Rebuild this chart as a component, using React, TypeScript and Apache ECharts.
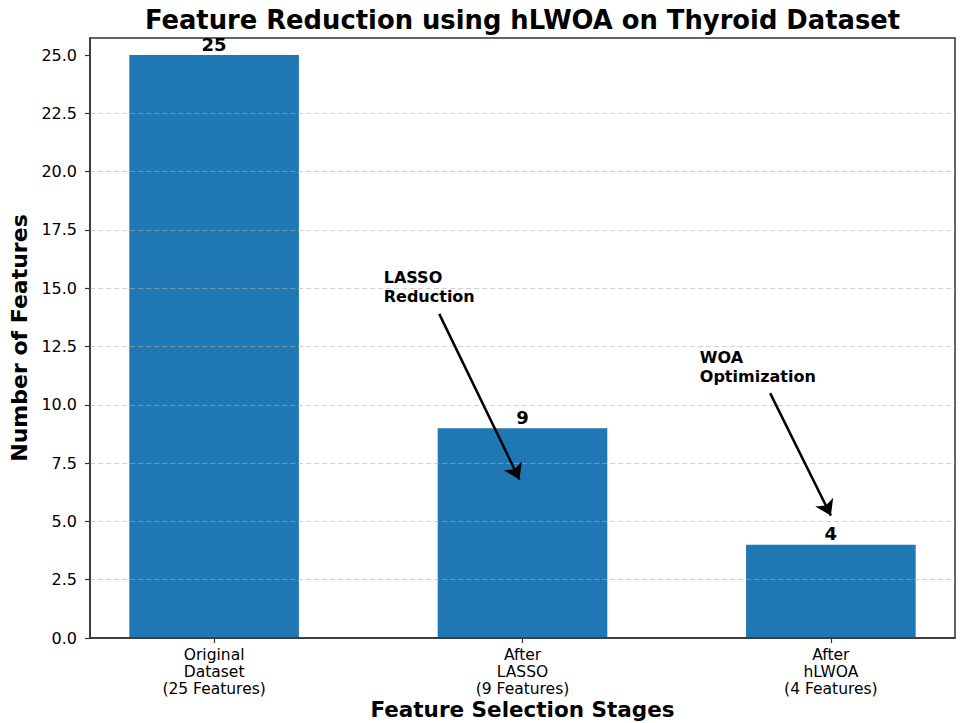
import React, { useRef, useEffect } from 'react';
import * as echarts from 'echarts';

const FONT = 'DejaVu Sans, sans-serif';

// ─── Data ────────────────────────────────────────────────────────────────────
const CATEGORIES = [
  'Original\nDataset\n(25 Features)',
  'After\nLASSO\n(9 Features)',
  'After\nhLWOA\n(4 Features)',
];
const FEATURE_COUNTS = [25, 9, 4];
const CATEGORY_INDEX = [0, 1, 2];
const Y_TICKS = [0, 2.5, 5, 7.5, 10, 12.5, 15, 17.5, 20, 22.5, 25];

// annotations, in data coordinates (x = category index)
const ANNOTATION_TEXTS = ['LASSO\nReduction', 'WOA\nOptimization'];
const ANNOTATION_TEXT_AT = [[0.55, 15.85], [1.575, 12.45]];
const ARROW_FROM = [[0.73, 13.9], [1.803, 10.5]];
const ARROW_TO = [[0.99, 6.8], [2.0, 5.25]];

// ─── Layout ──────────────────────────────────────────────────────────────────
const W = 966, H = 723;
const GRID_LEFT = 90, GRID_RIGHT = 11, GRID_TOP = 38, GRID_BOTTOM = 85;
const X_MIN = -0.4025, X_MAX = 2.4025;
const Y_MAX = 25.73;
const BAR_UNITS = 0.55;
const BAR_COLOR = '#1f77b4';
const SPINE = '#333333';

function getOption(): echarts.EChartsCoreOption {
  const gridW = W - GRID_LEFT - GRID_RIGHT;
  const barPx = (BAR_UNITS / (X_MAX - X_MIN)) * gridW;
  return {
    animation: false,
    backgroundColor: '#ffffff',
    textStyle: { fontFamily: FONT },
    graphic: [
      {
        type: 'text',
        x: GRID_LEFT + gridW / 2,
        y: 20,
        style: {
          text: 'Feature Reduction using hLWOA on Thyroid Dataset',
          font: `bold 25.8px ${FONT}`,
          fill: '#000',
          textAlign: 'center',
          textVerticalAlign: 'middle',
        },
      },
    ],
    grid: {
      left: GRID_LEFT, right: GRID_RIGHT, top: GRID_TOP, bottom: GRID_BOTTOM,
      outerBoundsMode: 'none',
      containLabel: false,
      show: true, borderColor: SPINE, borderWidth: 1.5, backgroundColor: 'transparent',
    },
    xAxis: {
      type: 'value',
      min: X_MIN,
      max: X_MAX,
      z: 3,
      name: 'Feature Selection Stages',
      nameLocation: 'middle',
      nameGap: 60,
      nameMoveOverlap: false,
      nameTextStyle: { fontFamily: FONT, fontSize: 21.5, fontWeight: 'bold', color: '#000' },
      axisLine: { show: true, onZero: false, lineStyle: { color: SPINE, width: 1.5 } },
      axisTick: { show: true, customValues: CATEGORY_INDEX, length: 5, lineStyle: { color: SPINE, width: 1.2 } },
      axisLabel: {
        customValues: CATEGORY_INDEX,
        formatter: (v: number) => CATEGORIES[Math.round(v)] ?? '',
        fontFamily: FONT, fontSize: 15.5, lineHeight: 17, color: '#000', margin: 8,
      },
      splitLine: { show: false },
    },
    yAxis: {
      type: 'value',
      min: 0,
      max: Y_MAX,
      interval: 2.5,
      z: 3,
      name: 'Number of Features',
      nameLocation: 'middle',
      nameGap: 60,
      nameMoveOverlap: false,
      nameTextStyle: { fontFamily: FONT, fontSize: 22, fontWeight: 'bold', color: '#000' },
      axisLine: { show: true, onZero: false, lineStyle: { color: SPINE, width: 1.5 } },
      axisTick: { show: true, customValues: Y_TICKS, length: 5, lineStyle: { color: SPINE, width: 1.2 } },
      axisLabel: {
        customValues: Y_TICKS,
        formatter: (v: number) => v.toFixed(1),
        fontFamily: FONT, fontSize: 16, color: '#000', margin: 13,
      },
      splitLine: {
        show: true,
        showMinLine: false,
        showMaxLine: false,
        lineStyle: { color: 'rgba(176,176,176,0.6)', type: [5, 3], width: 1 },
      },
    },
    series: [
      {
        type: 'bar',
        barWidth: barPx,
        data: CATEGORY_INDEX.map((i) => [i, FEATURE_COUNTS[i]]),
        itemStyle: { color: BAR_COLOR },
        label: {
          show: true,
          position: 'top',
          distance: 2,
          formatter: (p: any) => String(p.value[1]),
          fontFamily: FONT, fontSize: 18, fontWeight: 'bold', color: '#000',
        },
        markLine: {
          silent: true,
          symbol: ['none', 'arrow'],
          symbolSize: 15,
          label: { show: false },
          lineStyle: { color: '#000', width: 2.5, type: 'solid' },
          emphasis: { disabled: true },
          data: ARROW_FROM.map((from, i) => [{ coord: from }, { coord: ARROW_TO[i] }]),
        },
        markPoint: {
          silent: true,
          symbol: 'rect',
          symbolSize: 0,
          itemStyle: { color: 'transparent' },
          label: {
            show: true,
            position: [0, 0],
            align: 'left',
            verticalAlign: 'top',
            formatter: (p: any) => p.name,
            fontFamily: FONT, fontSize: 16, fontWeight: 'bold', lineHeight: 19, color: '#000',
          },
          data: ANNOTATION_TEXTS.map((t, i) => ({ name: t, coord: ANNOTATION_TEXT_AT[i] })),
        },
      },
    ],
  };
}

export default function App() {
  const ref = useRef<HTMLDivElement>(null);

  useEffect(() => {
    if (!ref.current) return;
    const chart = echarts.init(ref.current, undefined, { renderer: 'svg' });
    chart.setOption(getOption());
    return () => chart.dispose();
  }, []);

  return (
    <div
      ref={ref}
      style={{ position: 'fixed', left: 0, top: 0, width: W, height: H, background: '#fff' }}
    />
  );
}
